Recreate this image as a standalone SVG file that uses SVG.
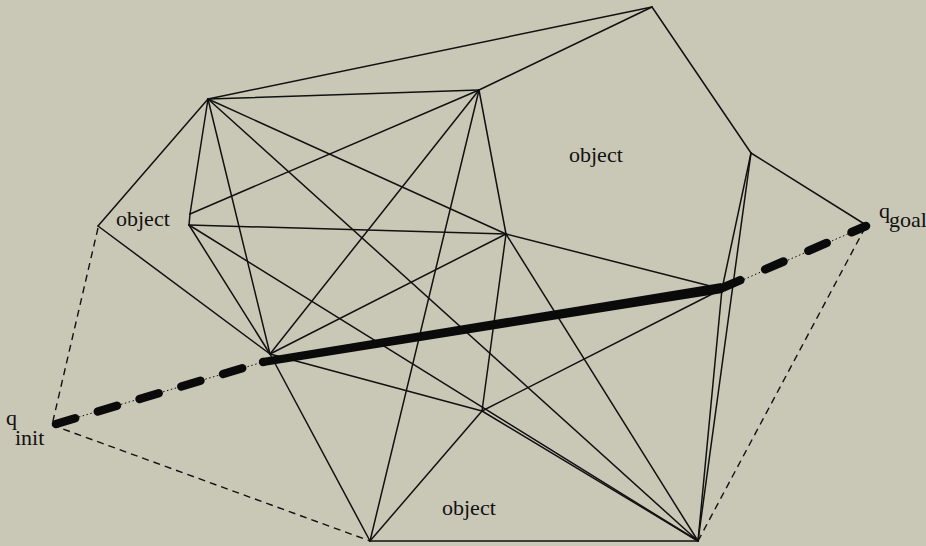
<svg xmlns="http://www.w3.org/2000/svg" width="926" height="546" viewBox="0 0 926 546">
<style>
.bg{fill:#c9c7b6}
.e{stroke:#111;stroke-width:1.5;fill:none;stroke-linecap:round}
.d{stroke:#111;stroke-width:1.4;fill:none;stroke-dasharray:7 5}
.dot{stroke:#111;stroke-width:1;fill:none;stroke-dasharray:1.5 2.5}
.thk{stroke:#0a0a0a;stroke-width:8.5;fill:none;stroke-linecap:round}
.t{font-family:"Liberation Serif","Times New Roman",serif;font-size:22px;fill:#111}
</style>
<rect class="bg" x="0" y="0" width="926" height="546"/>
<g id="connectors">
<line class="e" x1="208" y1="99" x2="652" y2="7"/>
<line class="e" x1="208" y1="99" x2="479" y2="90"/>
<line class="e" x1="479" y1="90" x2="652" y2="7"/>
<line class="e" x1="652" y1="7" x2="751" y2="153"/>
<line class="e" x1="751" y1="153" x2="866" y2="225"/>
<line class="e" x1="208" y1="99" x2="98" y2="226"/>
<line class="e" x1="208" y1="99" x2="190" y2="214"/>
<line class="e" x1="190" y1="214" x2="189" y2="225"/>
<line class="e" x1="189" y1="225" x2="270" y2="354"/>
<line class="e" x1="98" y1="226" x2="270" y2="354"/>
<line class="e" x1="208" y1="99" x2="270" y2="354"/>
<line class="e" x1="208" y1="99" x2="698" y2="541"/>
<line class="e" x1="208" y1="99" x2="506" y2="234"/>
<line class="e" x1="190" y1="214" x2="479" y2="90"/>
<line class="e" x1="479" y1="90" x2="270" y2="354"/>
<line class="e" x1="479" y1="90" x2="370" y2="541"/>
<line class="e" x1="479" y1="90" x2="506" y2="234"/>
<line class="e" x1="189" y1="225" x2="506" y2="234"/>
<line class="e" x1="189" y1="225" x2="698" y2="541"/>
<line class="e" x1="506" y1="234" x2="270" y2="354"/>
<line class="e" x1="506" y1="234" x2="722" y2="289"/>
<line class="e" x1="506" y1="234" x2="482" y2="411"/>
<line class="e" x1="506" y1="234" x2="698" y2="541"/>
<line class="e" x1="270" y1="354" x2="482" y2="411"/>
<line class="e" x1="270" y1="354" x2="370" y2="541"/>
<line class="e" x1="482" y1="411" x2="370" y2="541"/>
<line class="e" x1="482" y1="411" x2="722" y2="289"/>
<line class="e" x1="482" y1="411" x2="698" y2="541"/>
<line class="e" x1="370" y1="541" x2="698" y2="541"/>
<line class="e" x1="751" y1="153" x2="722" y2="289"/>
<line class="e" x1="722" y1="289" x2="698" y2="541"/>
<line class="e" x1="751" y1="153" x2="698" y2="541"/>
<line class="d" x1="98" y1="228" x2="52" y2="425"/>
<line class="d" x1="52" y1="425" x2="370" y2="541"/>
<line class="d" x1="698" y1="541" x2="866" y2="226"/>
<line class="dot" x1="52" y1="425" x2="263" y2="362"/>
<line class="dot" x1="722" y1="289" x2="866" y2="226"/>
<path class="thk" d="M56 424 L263 362" stroke-dasharray="20 23.6"/>
<polygon fill="#0a0a0a" points="263.6,366 722.8,292.9 721.2,283.1 262.4,358"/>
<circle fill="#0a0a0a" cx="263" cy="362" r="4.2"/>
<path class="thk" d="M722 288 L866 226" stroke-dasharray="20 27"/>
</g>
<g id="obj-left"><text class="t" x="116" y="226">object</text></g>
<g id="obj-top"><text class="t" x="569" y="162">object</text></g>
<g id="obj-bottom"><text class="t" x="442" y="515">object</text></g>
<g id="q-init"><text class="t" x="6" y="425">q</text><text class="t" x="15" y="445">init</text></g>
<g id="q-goal"><text class="t" x="879" y="218">q</text><text class="t" x="889" y="227">goal</text></g>
</svg>
